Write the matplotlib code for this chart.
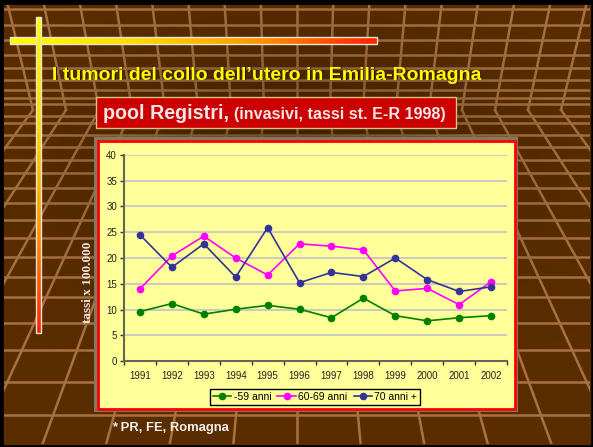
import matplotlib
matplotlib.use("Agg")
import matplotlib.pyplot as plt
import numpy as np
from matplotlib.patches import Rectangle
from matplotlib.colors import LinearSegmentedColormap

plt.rcParams['font.family'] = ['Liberation Sans', 'DejaVu Sans']

years = ["1991", "1992", "1993", "1994", "1995", "1996",
         "1997", "1998", "1999", "2000", "2001", "2002"]
young = [9.6, 11.15, 9.1, 10.05, 10.8, 10.05, 8.4, 12.2, 8.8, 7.8, 8.4, 8.8]
mid = [14.0, 20.4, 24.25, 20.0, 16.7, 22.75, 22.3, 21.6, 13.6, 14.1, 10.95, 15.4]
old = [24.5, 18.2, 22.75, 16.3, 25.9, 15.2, 17.2, 16.4, 20.0, 15.8, 13.5, 14.4]
series_names = ["-59 anni", "60-69 anni", "70 anni +"]
series_colors = ["#008000", "#ff00ff", "#333399"]

title = "I tumori del collo dell\u2019utero in Emilia-Romagna"
sub_big = "pool Registri,"
sub_small = "(invasivi, tassi st. E-R 1998)"
y_label = "tassi x 100.000"
footnote = "* PR, FE, Romagna"

W, H = 593, 447
fig = plt.figure(figsize=(W / 100, H / 100), dpi=100)

# ---- slide background (pixel coords) ----
bg = fig.add_axes([0, 0, 1, 1])
bg.set_xlim(0, W)
bg.set_ylim(H, 0)
bg.axis("off")
bg.add_patch(Rectangle((0, 0), W, H, color="black"))
room = Rectangle((4, 5), 586, 439, color="#5a2d00")
bg.add_patch(room)

line_col = "#a87240"
hz = 110
above = [9, 25, 40, 55, 68, 80, 90, 98, 104]
below = [116, 123, 135, 147, 160, 173, 188, 203, 220, 238, 257, 277,
         297, 323, 350, 382, 415]
for yy in above + below:
    l, = bg.plot([4, 590], [yy, yy], color=line_col, lw=1.8)
    l.set_clip_path(room)

cx = 297
for k in range(-16, 17):
    xh = cx + 33 * k
    yd = np.array([hz, H])
    xd = cx + (xh - cx) * (1 + (yd - hz) / 360.0)
    yu = np.array([hz, 0])
    xu = cx + (xh - cx) * (1 + (hz - yu) / 1100.0)
    for xs, ys in ((xd, yd), (xu, yu)):
        l, = bg.plot(xs, ys, color=line_col, lw=1.8)
        l.set_clip_path(room)

# darker centre
gy, gx = np.mgrid[0:H, 0:W]
dark = np.exp(-(((gx - 297) / 200.0) ** 2 + ((gy - 160) / 110.0) ** 2))
shade = np.zeros((H, W, 4))
shade[..., 3] = 0.3 * dark
bg.imshow(shade, extent=(0, W, H, 0), zorder=3)

# gradient bars
cmap = LinearSegmentedColormap.from_list("yr", ["#ffff00", "#ffdd00", "#ff9900", "#ff2000"])
grad = np.linspace(0, 1, 256)
bg.imshow(grad[None, :], cmap=cmap, extent=(10, 377, 44, 37), aspect="auto", zorder=4)
bg.add_patch(Rectangle((10, 37), 367, 7, fill=False, ec="#e8e4d8", lw=1, zorder=4))
bg.imshow(grad[:, None], cmap=cmap, extent=(36, 41, 333, 17), aspect="auto", zorder=5)
bg.add_patch(Rectangle((36, 17), 5, 316, fill=False, ec="#e8e4d8", lw=1, zorder=5))

# title with shadow
bg.text(53, 76, title, color="#2a1400", fontsize=14, weight="bold", va="center", zorder=6)
bg.text(52, 75, title, color="#ffff00", fontsize=14, weight="bold", va="center", zorder=6)

# red subtitle box
bg.add_patch(Rectangle((96, 97), 360, 31, fc="#cc0000", ec="#e0c080", lw=1, zorder=6))
t1 = bg.text(103, 119, sub_big, color="#f2e6e6", fontsize=14.2, weight="bold",
             va="baseline", zorder=7)
fig.canvas.draw()
bb = t1.get_window_extent()
x_end = bg.transData.inverted().transform((bb.x1, bb.y0))[0]
bg.text(x_end + 5, 119, sub_small, color="#f2e6e6", fontsize=11.6, weight="bold",
        va="baseline", zorder=7)

# chart panel
bg.add_patch(Rectangle((94, 137), 424, 275, fc="#7f7a60", zorder=6))
bg.add_patch(Rectangle((97.5, 140.5), 417, 268, fc="#ffff99", ec="#ff0000", lw=2, zorder=6))

bg.text(88, 282, y_label, rotation=90, family=["Liberation Serif", "DejaVu Serif"],
        weight="bold", color="#ece4dc", fontsize=9.5, ha="center", va="center", zorder=7)
bg.text(112, 428, footnote, color="#f4f0ec", fontsize=9.4, weight="bold",
        va="center", zorder=7)

# ---- line chart ----
ax = fig.add_axes([124 / W, 1 - 361 / H, (507 - 124) / W, (361 - 155) / H])
ax.set_zorder(2)
ax.patch.set_visible(False)
x = np.arange(len(years))
for vals, name, col in zip([young, mid, old], series_names, series_colors):
    ax.plot(x, vals, color=col, lw=1.2, marker="o", ms=4.5, label=name)

ax.set_xlim(-0.5, len(years) - 0.5)
ax.set_ylim(0, 40)
ax.set_yticks(np.arange(0, 41, 5))
ax.grid(axis="y", color="#c6c6c6", lw=1.3)
ax.set_axisbelow(True)
for s in ("top", "right"):
    ax.spines[s].set_visible(False)
for s in ("left", "bottom"):
    ax.spines[s].set_color("#666655")
    ax.spines[s].set_linewidth(1.5)
ax.set_xticks(np.arange(-0.5, len(years), 1))
ax.set_xticklabels([])
ax.set_xticks(x, minor=True)
ax.set_xticklabels(years, minor=True)
ax.tick_params(axis="x", which="major", length=3, width=1, color="#333333", direction="out")
ax.tick_params(axis="x", which="minor", length=0, pad=7, labelsize=7, labelcolor="#222222")
ax.tick_params(axis="y", length=3, width=1, color="#333333", pad=2, labelsize=7,
               labelcolor="#222222")

leg = fig.legend(loc="center", bbox_to_anchor=(315 / W, 1 - 397 / H), ncol=3,
                 fontsize=7.5, frameon=True, fancybox=False, edgecolor="black",
                 facecolor="#ffff99", framealpha=1, handlelength=1.8,
                 columnspacing=0.6, handletextpad=0.2, borderpad=0.25)
leg.get_frame().set_linewidth(1)
leg.set_zorder(3)

fig.savefig("out.png", dpi=100)
